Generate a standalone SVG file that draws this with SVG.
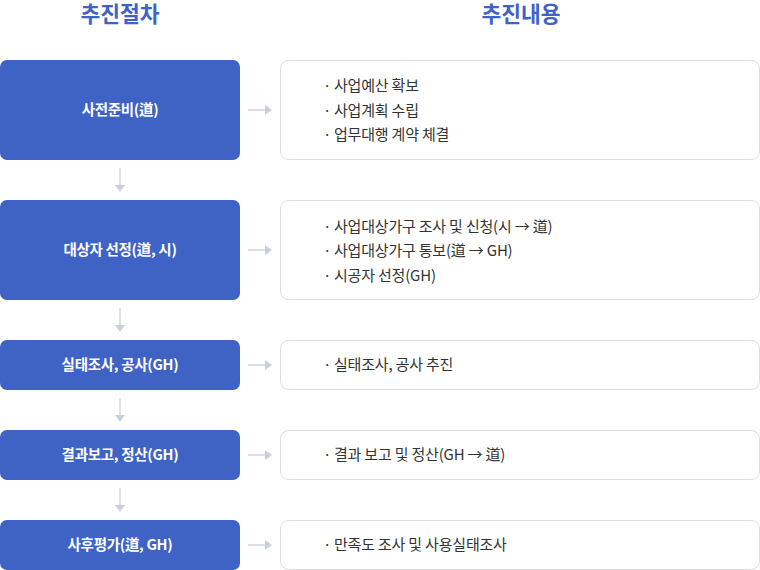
<svg xmlns="http://www.w3.org/2000/svg" width="760" height="570" viewBox="0 0 760 570">
<defs>
<style>
.hd{font-family:"Noto Sans CJK KR","Noto Sans",sans-serif;font-size:21.5px;font-weight:bold;fill:#3f62c5;text-anchor:middle}
.step rect{fill:#3f62c5}
.step text{font-family:"Noto Sans CJK KR","Noto Sans",sans-serif;font-size:14.5px;font-weight:bold;fill:#ffffff;text-anchor:middle;letter-spacing:-0.3px}
.cont rect{fill:#ffffff;stroke:#dcdcdc;stroke-width:1}
.cont text{font-family:"Noto Sans CJK KR","Noto Sans",sans-serif;font-size:15px;fill:#333333;letter-spacing:-0.2px}
.conn line{stroke:#c8d0da;stroke-width:1.3}
.conn path{fill:#c8d0da}
</style>
</defs>
<text class="hd" x="120" y="22">추진절차</text>
<text class="hd" x="521" y="22">추진내용</text>

<g id="step1" class="step"><rect x="0" y="60" width="240" height="100" rx="7"/><text x="120" y="115">사전준비(道)</text></g>
<g id="step2" class="step"><rect x="0" y="200" width="240" height="100" rx="7"/><text x="120" y="255">대상자 선정(道, 시)</text></g>
<g id="step3" class="step"><rect x="0" y="340" width="240" height="50" rx="7"/><text x="120" y="370">실태조사, 공사(GH)</text></g>
<g id="step4" class="step"><rect x="0" y="430" width="240" height="50" rx="7"/><text x="120" y="460">결과보고, 정산(GH)</text></g>
<g id="step5" class="step"><rect x="0" y="520" width="240" height="50" rx="7"/><text x="120" y="550">사후평가(道, GH)</text></g>

<g id="content1" class="cont"><rect x="280.5" y="60.5" width="479" height="99" rx="8"/>
<text y="91"><tspan x="323">·</tspan><tspan x="334">사업예산 확보</tspan></text>
<text y="115.5"><tspan x="323">·</tspan><tspan x="334">사업계획 수립</tspan></text>
<text y="140"><tspan x="323">·</tspan><tspan x="334">업무대행 계약 체결</tspan></text></g>
<g id="content2" class="cont"><rect x="280.5" y="200.5" width="479" height="99" rx="8"/>
<text y="231.5"><tspan x="323">·</tspan><tspan x="334">사업대상가구 조사 및 신청(시 → 道)</tspan></text>
<text y="256"><tspan x="323">·</tspan><tspan x="334">사업대상가구 통보(道 → GH)</tspan></text>
<text y="280.5"><tspan x="323">·</tspan><tspan x="334">시공자 선정(GH)</tspan></text></g>
<g id="content3" class="cont"><rect x="280.5" y="340.5" width="479" height="49" rx="8"/>
<text y="370"><tspan x="323">·</tspan><tspan x="334">실태조사, 공사 추진</tspan></text></g>
<g id="content4" class="cont"><rect x="280.5" y="430.5" width="479" height="49" rx="8"/>
<text y="460"><tspan x="323">·</tspan><tspan x="334">결과 보고 및 정산(GH → 道)</tspan></text></g>
<g id="content5" class="cont"><rect x="280.5" y="520.5" width="479" height="49" rx="8"/>
<text y="550"><tspan x="323">·</tspan><tspan x="334">만족도 조사 및 사용실태조사</tspan></text></g>

<g id="connectors" class="conn">
<line x1="248" y1="110" x2="266" y2="110"/><path d="M265 105 L272 110 L265 115 Z"/>
<line x1="248" y1="250" x2="266" y2="250"/><path d="M265 245 L272 250 L265 255 Z"/>
<line x1="248" y1="365" x2="266" y2="365"/><path d="M265 360 L272 365 L265 370 Z"/>
<line x1="248" y1="455" x2="266" y2="455"/><path d="M265 450 L272 455 L265 460 Z"/>
<line x1="248" y1="545" x2="266" y2="545"/><path d="M265 540 L272 545 L265 550 Z"/>
<line x1="120" y1="168" x2="120" y2="186"/><path d="M115 185 L120 192 L125 185 Z"/>
<line x1="120" y1="308" x2="120" y2="326"/><path d="M115 325 L120 332 L125 325 Z"/>
<line x1="120" y1="398" x2="120" y2="416"/><path d="M115 415 L120 422 L125 415 Z"/>
<line x1="120" y1="488" x2="120" y2="506"/><path d="M115 505 L120 512 L125 505 Z"/>
</g>
</svg>
